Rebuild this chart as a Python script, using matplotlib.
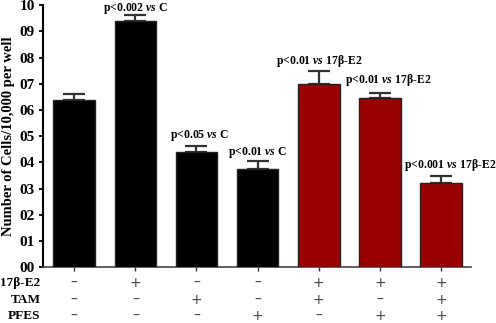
import numpy as np
import matplotlib.pyplot as plt
from matplotlib import transforms

plt.rcParams['font.family'] = 'Liberation Serif'
plt.rcParams['mathtext.fontset'] = 'custom'
plt.rcParams['mathtext.rm'] = 'Liberation Serif:bold'
plt.rcParams['mathtext.it'] = 'Liberation Serif:italic:bold'

# Données
valeurs = [6.37, 9.39, 4.39, 3.74, 6.98, 6.45, 3.21]
erreurs = [0.23, 0.23, 0.23, 0.31, 0.50, 0.19, 0.26]
couleurs = ['black'] * 4 + ['#990000'] * 3
p_textes = ['', 'p<0.002 $vs$ C', 'p<0.05 $vs$ C', 'p<0.01 $vs$ C',
            'p<0.01 $vs$ 17\u03b2-E2', 'p<0.01 $vs$ 17\u03b2-E2', 'p<0.001 $vs$ 17\u03b2-E2']
lignes = ['17\u03b2-E2', 'TAM', 'PFES']
signes = [['-', '+', '-', '-', '+', '+', '+'],
          ['-', '-', '+', '-', '+', '-', '+'],
          ['-', '-', '-', '+', '-', '+', '+']]
yticks_lab = ['00', '01', '02', '03', '04', '05', '06', '07', '08', '09', '10']

# position des textes p (x décalé, hauteur)
p_dx = [0, 0, 0.05, 0, 0, 0.13, 0.15]
p_y = [0, 9.86, 5.04, 4.37, 7.86, 7.14, 3.89]

x = np.arange(len(valeurs))

fig = plt.figure(figsize=(4.96, 3.23), dpi=100)
ax = fig.add_axes([0.0867, 0.173, 0.863, 0.811])

ax.bar(x, valeurs, width=0.68, color=couleurs, edgecolor='#222222', linewidth=1.0, zorder=3)
ax.errorbar(x, valeurs, yerr=[[0] * len(x), erreurs], fmt='none', ecolor='#333333',
            elinewidth=1.6, capsize=8, capthick=1.6, zorder=2)

ax.set_xlim(-0.51, 6.49)
ax.set_ylim(0, 10)
ax.set_yticks(range(11))
ax.set_yticklabels(yticks_lab, fontsize=11, fontweight='bold')
ax.set_xticks(x)
ax.set_xticklabels([])
ax.tick_params(axis='x', length=3, width=1, direction='out', color='#333333')
ax.tick_params(axis='y', length=3, width=1.3, direction='out', pad=3)
ax.spines['top'].set_visible(False)
ax.spines['right'].set_visible(False)
ax.spines['left'].set_linewidth(1.5)
ax.spines['bottom'].set_linewidth(1.2)
ax.spines['bottom'].set_color('#444444')
ax.set_ylabel('Number of Cells/10,000 per well', fontsize=10.5, fontweight='bold', labelpad=3)

# Annotations p
for i, t in enumerate(p_textes):
    if t:
        ax.text(x[i] + p_dx[i], p_y[i], t, ha='center', va='center',
                fontsize=8.5, fontweight='bold')

# Lignes +/- sous l'axe
trans = transforms.blended_transform_factory(ax.transData, ax.transAxes)
for r, (nom, rangee) in enumerate(zip(lignes, signes)):
    yy = -0.061 - r * 0.063
    ax.text(-0.55, yy, nom, transform=trans, ha='right', va='center',
            fontsize=9.5, fontweight='bold', clip_on=False)
    for i, s in enumerate(rangee):
        ax.text(x[i], yy, '+' if s == '+' else '\u2013', transform=trans, ha='center',
                va='center', fontsize=10, color='#444444', family='DejaVu Sans')

fig.savefig('out.png', dpi=100)
